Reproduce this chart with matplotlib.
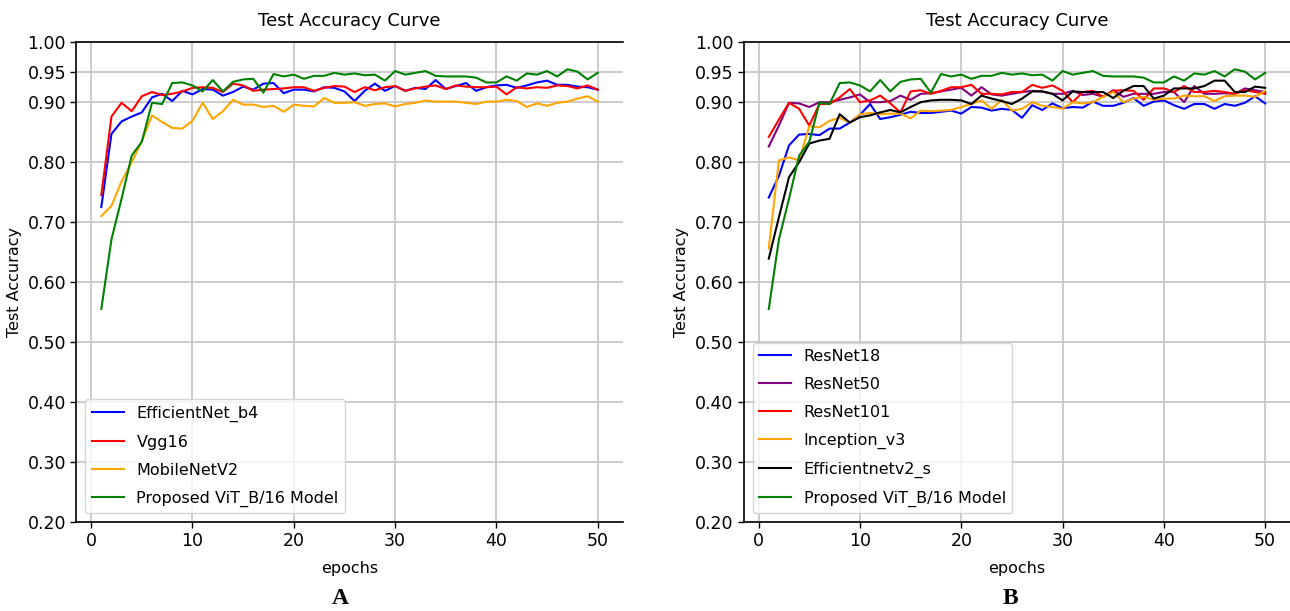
#!/usr/bin/env python3
"""Test accuracy curves for two groups of models (panels A and B)."""

import matplotlib

matplotlib.use("Agg")
import matplotlib.pyplot as plt
import numpy as np

EPOCHS = np.arange(1, 51)

# panel A
EFFICIENTNET_B4 = [
    0.725, 0.847, 0.868, 0.876, 0.883, 0.908, 0.914, 0.902, 0.919, 0.913,
    0.922, 0.921, 0.911, 0.917, 0.926, 0.921, 0.931, 0.932, 0.915, 0.921,
    0.921, 0.918, 0.925, 0.924, 0.918, 0.902, 0.919, 0.931, 0.919, 0.927,
    0.919, 0.924, 0.922, 0.937, 0.922, 0.927, 0.932, 0.919, 0.925, 0.928,
    0.929, 0.924, 0.928, 0.933, 0.936, 0.929, 0.929, 0.926, 0.925, 0.921,
]
VGG16 = [
    0.745, 0.876, 0.899, 0.885, 0.910, 0.917, 0.912, 0.914, 0.918, 0.924,
    0.925, 0.924, 0.917, 0.931, 0.928, 0.919, 0.921, 0.922, 0.923, 0.925,
    0.925, 0.919, 0.924, 0.927, 0.926, 0.917, 0.925, 0.920, 0.925, 0.927,
    0.919, 0.923, 0.926, 0.928, 0.922, 0.928, 0.926, 0.925, 0.925, 0.926,
    0.913, 0.925, 0.923, 0.925, 0.924, 0.928, 0.927, 0.923, 0.928, 0.921,
]
MOBILENETV2 = [
    0.710, 0.727, 0.768, 0.800, 0.835, 0.878, 0.867, 0.857, 0.856, 0.869,
    0.899, 0.872, 0.885, 0.904, 0.896, 0.896, 0.892, 0.894, 0.884, 0.896,
    0.894, 0.893, 0.907, 0.899, 0.899, 0.900, 0.894, 0.897, 0.898, 0.893,
    0.897, 0.899, 0.903, 0.901, 0.901, 0.901, 0.899, 0.897, 0.901, 0.901,
    0.904, 0.902, 0.892, 0.898, 0.894, 0.899, 0.901, 0.906, 0.910, 0.901,
]
VIT_B16 = [
    0.555, 0.671, 0.739, 0.811, 0.834, 0.899, 0.897, 0.932, 0.933, 0.928,
    0.918, 0.937, 0.918, 0.934, 0.938, 0.939, 0.916, 0.947, 0.943, 0.946,
    0.939, 0.944, 0.944, 0.949, 0.946, 0.948, 0.945, 0.946, 0.936, 0.952,
    0.946, 0.949, 0.952, 0.944, 0.943, 0.943, 0.943, 0.941, 0.933, 0.933,
    0.943, 0.936, 0.948, 0.946, 0.952, 0.943, 0.955, 0.951, 0.938, 0.949,
]

# panel B
RESNET18 = [
    0.741, 0.777, 0.828, 0.846, 0.847, 0.845, 0.856, 0.856, 0.866, 0.879,
    0.897, 0.872, 0.875, 0.879, 0.884, 0.882, 0.882, 0.884, 0.886, 0.881,
    0.892, 0.891, 0.886, 0.889, 0.887, 0.874, 0.895, 0.887, 0.898, 0.890,
    0.892, 0.891, 0.901, 0.894, 0.894, 0.899, 0.907, 0.894, 0.901, 0.903,
    0.895, 0.889, 0.897, 0.897, 0.889, 0.897, 0.894, 0.899, 0.910, 0.898,
]
RESNET50 = [
    0.826, 0.861, 0.899, 0.898, 0.892, 0.900, 0.900, 0.904, 0.908, 0.913,
    0.900, 0.900, 0.902, 0.911, 0.904, 0.914, 0.915, 0.918, 0.921, 0.924,
    0.911, 0.925, 0.913, 0.911, 0.914, 0.917, 0.919, 0.918, 0.914, 0.914,
    0.919, 0.912, 0.914, 0.909, 0.920, 0.909, 0.914, 0.914, 0.914, 0.917,
    0.917, 0.900, 0.927, 0.914, 0.914, 0.915, 0.914, 0.923, 0.920, 0.917,
]
RESNET101 = [
    0.842, 0.871, 0.899, 0.889, 0.861, 0.897, 0.897, 0.908, 0.922, 0.900,
    0.903, 0.911, 0.898, 0.883, 0.918, 0.920, 0.914, 0.919, 0.925, 0.925,
    0.929, 0.914, 0.914, 0.913, 0.917, 0.917, 0.929, 0.924, 0.928, 0.919,
    0.900, 0.917, 0.919, 0.909, 0.919, 0.920, 0.919, 0.904, 0.923, 0.923,
    0.917, 0.927, 0.917, 0.917, 0.919, 0.917, 0.914, 0.920, 0.917, 0.914,
]
INCEPTION_V3 = [
    0.656, 0.803, 0.808, 0.803, 0.860, 0.858, 0.869, 0.874, 0.866, 0.880,
    0.882, 0.880, 0.881, 0.881, 0.873, 0.886, 0.885, 0.886, 0.887, 0.892,
    0.897, 0.903, 0.889, 0.904, 0.886, 0.889, 0.900, 0.894, 0.892, 0.889,
    0.900, 0.898, 0.900, 0.909, 0.917, 0.900, 0.906, 0.909, 0.904, 0.906,
    0.906, 0.911, 0.910, 0.910, 0.902, 0.910, 0.911, 0.911, 0.909, 0.919,
]
EFFICIENTNETV2_S = [
    0.639, 0.708, 0.775, 0.800, 0.831, 0.836, 0.839, 0.880, 0.866, 0.875,
    0.878, 0.883, 0.887, 0.883, 0.892, 0.900, 0.903, 0.904, 0.904, 0.903,
    0.897, 0.911, 0.906, 0.902, 0.897, 0.906, 0.918, 0.918, 0.914, 0.903,
    0.918, 0.917, 0.917, 0.917, 0.907, 0.919, 0.927, 0.927, 0.906, 0.911,
    0.923, 0.923, 0.923, 0.927, 0.936, 0.936, 0.917, 0.917, 0.926, 0.924,
]

YTICKS = [0.20, 0.30, 0.40, 0.50, 0.60, 0.70, 0.80, 0.90, 0.95, 1.00]
XTICKS = [0, 10, 20, 30, 40, 50]

PANEL_A = [
    ("EfficientNet_b4", EFFICIENTNET_B4, "blue"),
    ("Vgg16", VGG16, "red"),
    ("MobileNetV2", MOBILENETV2, "orange"),
    ("Proposed ViT_B/16 Model", VIT_B16, "green"),
]
PANEL_B = [
    ("ResNet18", RESNET18, "blue"),
    ("ResNet50", RESNET50, "purple"),
    ("ResNet101", RESNET101, "red"),
    ("Inception_v3", INCEPTION_V3, "orange"),
    ("Efficientnetv2_s", EFFICIENTNETV2_S, "black"),
    ("Proposed ViT_B/16 Model", VIT_B16, "green"),
]

plt.rcParams["font.family"] = "DejaVu Sans"


def draw_panel(ax, series):
    for label, values, color in series:
        ax.plot(EPOCHS, values, color=color, lw=1.5, label=label)
    ax.set_ylim(0.2, 1.0)
    ax.set_xlim(-1.45, 52.45)
    ax.set_yticks(YTICKS)
    ax.set_yticklabels([f"{t:.2f}" for t in YTICKS])
    ax.set_xticks(XTICKS)
    ax.grid(True, color="#c8c8c8", lw=1.3)
    ax.spines["right"].set_visible(False)
    for side in ("left", "top", "bottom"):
        ax.spines[side].set_linewidth(1.2)
    ax.tick_params(labelsize=12.5, length=4, width=1)
    ax.set_title("Test Accuracy Curve", fontsize=13, pad=12)
    ax.set_xlabel("epochs", fontsize=11.5, labelpad=8)
    ax.set_ylabel("Test Accuracy", fontsize=11.5, labelpad=4)
    ax.legend(loc="lower left", fontsize=11.5, fancybox=True, framealpha=0.8,
              handlelength=2.0, borderaxespad=0.55, labelspacing=0.8)


fig = plt.figure(figsize=(12.9, 6.11), dpi=100)
ax1 = fig.add_axes([0.0593, 0.1461, 0.4233, 0.7847])
ax2 = fig.add_axes([0.5767, 0.1461, 0.4233, 0.7847])

draw_panel(ax1, PANEL_A)
draw_panel(ax2, PANEL_B)

fig.text(0.264, 0.004, "A", fontsize=17, fontweight="bold",
         family="Liberation Serif", ha="center", va="bottom")
fig.text(0.783, 0.004, "B", fontsize=17, fontweight="bold",
         family="Liberation Serif", ha="center", va="bottom")

fig.savefig("out.png", dpi=100)
